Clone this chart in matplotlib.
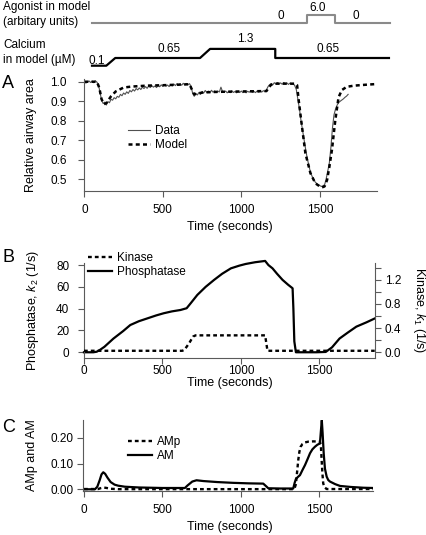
import numpy as np
import matplotlib
matplotlib.use("Agg")
import matplotlib.pyplot as plt
from matplotlib.ticker import MultipleLocator, FormatStrFormatter

plt.rcParams["font.family"] = ["Liberation Sans", "DejaVu Sans"]
plt.rcParams["mathtext.fontset"] = "custom"
plt.rcParams["mathtext.rm"] = "Liberation Sans"
plt.rcParams["mathtext.it"] = "Liberation Sans:italic"

W, H = 426, 535
AX_COL = "#5a5a5a"
DASH = (0, (1.6, 1.3))

## Protocol schematic (top)
agonist_t = [49, 1418, 1418, 1599, 1599, 1949]
agonist_v = [0, 0, 6.0, 6.0, 0, 0]
calcium_t = [49, 140, 197, 737, 801, 1216, 1216, 1940]
calcium_v = [0.1, 0.1, 0.65, 0.65, 1.3, 1.3, 0.65, 0.65]

## Panel A: relative airway area (data sampled every 10 s)
data_t = np.arange(0, 1690, 10)
data_v = [1.000, 0.993, 0.998, 1.004, 0.996, 1.003, 0.995, 1.005, 0.998, 0.985,
          0.945, 0.905, 0.888, 0.895, 0.880, 0.898, 0.892, 0.910, 0.905, 0.918,
          0.912, 0.925, 0.920, 0.935, 0.928, 0.942, 0.935, 0.948, 0.940, 0.955,
          0.948, 0.960, 0.952, 0.965, 0.958, 0.968, 0.960, 0.972, 0.965, 0.975,
          0.966, 0.978, 0.970, 0.980, 0.972, 0.978, 0.970, 0.982, 0.974, 0.984,
          0.976, 0.986, 0.977, 0.983, 0.975, 0.986, 0.978, 0.988, 0.980, 0.990,
          0.981, 0.989, 0.982, 0.992, 0.984, 0.991, 0.985, 0.990, 0.975, 0.940,
          0.925, 0.940, 0.932, 0.945, 0.935, 0.950, 0.942, 0.955, 0.945, 0.952,
          0.944, 0.956, 0.946, 0.953, 0.944, 0.952, 0.947, 0.972, 0.950, 0.945,
          0.952, 0.943, 0.950, 0.944, 0.953, 0.945, 0.950, 0.943, 0.951, 0.945,
          0.952, 0.944, 0.950, 0.943, 0.951, 0.946, 0.953, 0.945, 0.950, 0.944,
          0.952, 0.946, 0.951, 0.947, 0.954, 0.950, 0.958, 0.975, 0.985, 0.990,
          0.984, 0.995, 0.988, 0.996, 0.989, 0.994, 0.987, 0.996, 0.990, 0.994,
          0.986, 0.993, 0.988, 0.991, 0.980, 0.960, 0.910, 0.860, 0.800, 0.750,
          0.700, 0.650, 0.605, 0.570, 0.535, 0.515, 0.498, 0.485, 0.476, 0.470,
          0.466, 0.462, 0.465, 0.470, 0.500, 0.540, 0.580, 0.660, 0.760, 0.830,
          0.860, 0.880, 0.893, 0.900, 0.906, 0.912, 0.920, 0.926, 0.935]
model_t = [0, 80, 95, 110, 125, 140, 170, 200, 250, 300, 400, 500, 600, 670, 685,
           700, 720, 760, 850, 1000, 1160, 1175, 1190, 1210, 1345, 1355, 1365, 1386,
           1408, 1440, 1471, 1500, 1514, 1530, 1546, 1560, 1577, 1598, 1619, 1640,
           1671, 1720, 1800, 1860]
model_v = [1.0, 1.0, 0.97, 0.91, 0.885, 0.89, 0.925, 0.95, 0.97, 0.975, 0.98, 0.982,
           0.985, 0.987, 0.96, 0.935, 0.94, 0.945, 0.948, 0.95, 0.952, 0.97, 0.985,
           0.99, 0.99, 0.983, 0.906, 0.77, 0.632, 0.53, 0.478, 0.462, 0.457, 0.462,
           0.495, 0.56, 0.65, 0.80, 0.92, 0.957, 0.974, 0.98, 0.985, 0.988]

## Panel B: kinase and phosphatase rates
kin_t = [0, 626, 640, 670, 695, 711, 1154, 1169, 1852]
kin_v = [0.025, 0.025, 0.04, 0.15, 0.26, 0.28, 0.28, 0.025, 0.025]
ph_t = [0, 60, 81, 100, 130, 188, 250, 295, 350, 402, 460, 508, 560, 615, 654, 680,
        722, 775, 829, 880, 936, 990, 1030, 1090, 1154, 1175, 1201, 1230, 1265, 1300,
        1329, 1334, 1340, 1350, 1400, 1480, 1540, 1580, 1628, 1680, 1735, 1800, 1852]
ph_v = [0, 0, 0.5, 2, 5, 12.6, 19.5, 25, 28.5, 31, 33.8, 35.8, 37.5, 38.8, 40.4, 45,
        52.6, 60, 66.4, 72, 77, 79.5, 81, 82.6, 83.8, 80, 77, 72, 66.4, 62,
        58.7, 40, 10, 0, 0, 0, 0.3, 4.5, 12.6, 18, 23.5, 27.5, 31]

## Panel C: AMp and AM
am_t = [0, 70, 85, 100, 112, 123, 135, 150, 170, 195, 218, 260, 350, 500, 643, 660,
        690, 717, 760, 850, 950, 1050, 1142, 1160, 1174, 1250, 1333, 1342, 1350, 1363,
        1376, 1392, 1408, 1425, 1440, 1455, 1471, 1487, 1503, 1511, 1515, 1520, 1527,
        1535, 1546, 1556, 1567, 1600, 1631, 1700, 1780, 1843]
am_v = [0, 0, 0.01, 0.035, 0.058, 0.066, 0.06, 0.045, 0.028, 0.018, 0.014, 0.01,
        0.007, 0.005, 0.005, 0.015, 0.03, 0.035, 0.032, 0.028, 0.025, 0.023, 0.022,
        0.012, 0.004, 0.003, 0.003, 0.025, 0.04, 0.048, 0.055, 0.075, 0.094, 0.118,
        0.14, 0.155, 0.165, 0.173, 0.178, 0.24, 0.268, 0.22, 0.14, 0.08, 0.049,
        0.036, 0.03, 0.02, 0.013, 0.009, 0.006, 0.005]
amp_t = [0, 90, 110, 125, 145, 170, 220, 1340, 1350, 1358, 1365, 1372, 1380, 1392,
         1408, 1430, 1461, 1503, 1509, 1514, 1519, 1524, 1532, 1546, 1843]
amp_v = [0.001, 0.001, 0.005, 0.007, 0.005, 0.002, 0.0005, 0.0005, 0.02, 0.07, 0.113,
         0.145, 0.165, 0.176, 0.182, 0.185, 0.186, 0.185, 0.17, 0.113, 0.06, 0.023,
         0.008, 0.001, 0.001]


def px(x, y):
    return x / W, 1 - y / H


def add_axes(fig, left, top, right, bottom):
    return fig.add_axes([left / W, 1 - bottom / H, (right - left) / W, (bottom - top) / H])


def style(ax, ypad, xpad=4):
    for s in ["top", "right"]:
        ax.spines[s].set_visible(False)
    for s in ["left", "bottom"]:
        ax.spines[s].set_color(AX_COL)
        ax.spines[s].set_linewidth(0.8)
    ax.tick_params(colors=AX_COL, labelcolor="black", length=4.3, width=0.8, labelsize=8.5)
    ax.tick_params(axis="y", pad=ypad)
    ax.tick_params(axis="x", pad=xpad)
    ax.xaxis.set_major_locator(MultipleLocator(500))


def legend(ax, handles, labels, x, y, hl):
    ax.legend(handles, labels, loc="upper left", bbox_to_anchor=px(x, y),
              bbox_transform=ax.figure.transFigure, frameon=False, fontsize=8.5,
              handlelength=hl, handletextpad=0.45, labelspacing=0.2,
              borderpad=0, borderaxespad=0)


fig = plt.figure(figsize=(W / 100, H / 100), dpi=100)

## Top schematic
ax0 = add_axes(fig, 84, 0, 376.7, 75)
ax0.axis("off")
ax0.set_xlim(-2, 1862)
ax0.set_ylim(75, 0)
ax0.plot(agonist_t, 23.3 - 1.38 * np.array(agonist_v), color="#8a8a8a", lw=1.5, clip_on=False)
ax0.plot(calcium_t, 67.1 - 14 * np.array(calcium_v), color="black", lw=1.6, clip_on=False)

fs = 8.5
fig.text(*px(3, 7), "Agonist in model", fontsize=fs, va="center")
fig.text(*px(3, 22), "(arbitary units)", fontsize=fs, va="center")
fig.text(*px(3, 45), "Calcium", fontsize=fs, va="center")
fig.text(*px(3, 60), "in model (µM)", fontsize=fs, va="center")
for (x, y), s in zip([(281, 15.7), (318, 8), (356, 15.7)], ["0", "6.0", "0"]):
    fig.text(*px(x, y), s, fontsize=fs, ha="center", va="center")
for (x, y), s in zip([(97, 61), (169, 49), (245, 39), (328, 49)], ["0.1", "0.65", "1.3", "0.65"]):
    fig.text(*px(x, y), s, fontsize=fs, ha="center", va="center")

## Panel A
axA = add_axes(fig, 84, 79, 376.7, 190.7)
style(axA, ypad=8, xpad=5)
hd, = axA.plot(data_t, data_v, color="#505050", lw=0.8)
hm, = axA.plot(model_t, model_v, color="black", lw=1.8, linestyle=DASH)
axA.set_xlim(-2, 1862)
axA.set_ylim(0.44, 1.014)
axA.set_yticks([0.5, 0.6, 0.7, 0.8, 0.9, 1.0])
axA.yaxis.set_major_formatter(FormatStrFormatter("%.1f"))
legend(axA, [hd, hm], ["Data", "Model"], 128, 125, 1.85)
fig.text(*px(31, 135), "Relative airway area", fontsize=9, rotation=90, ha="center", va="center")
fig.text(*px(230, 227), "Time (seconds)", fontsize=9, ha="center", va="center")
fig.text(*px(2, 83), "A", fontsize=13, va="center")

## Panel B
axB = add_axes(fig, 83.5, 263, 374.7, 357.5)
style(axB, ypad=6, xpad=1)
axB2 = axB.twinx()
axB2.spines["top"].set_visible(False)
axB2.spines["left"].set_visible(False)
axB2.spines["bottom"].set_visible(False)
axB2.spines["right"].set_color(AX_COL)
axB2.spines["right"].set_linewidth(0.8)
hp, = axB.plot(ph_t, ph_v, color="black", lw=1.6, clip_on=False)
hk, = axB2.plot(kin_t, kin_v, color="black", lw=1.7, linestyle=DASH)
axB.set_xlim(-3, 1852)
axB.set_ylim(-4.8, 81.9)
axB.set_yticks([0, 20, 40, 60, 80])
axB2.set_ylim(-0.086, 1.476)
axB2.yaxis.set_major_locator(MultipleLocator(0.4))
axB2.yaxis.set_minor_locator(MultipleLocator(0.2))
axB2.yaxis.set_major_formatter(FormatStrFormatter("%.1f"))
axB2.tick_params(which="both", colors=AX_COL, labelcolor="black", length=4.3, width=0.8,
                 labelsize=8.5, pad=3)
legend(axB, [hk, hp], ["Kinase", "Phosphatase"], 88, 252, 2.0)
fig.text(*px(33, 310), "Phosphatase, $k_2$ (1/s)", fontsize=9, rotation=90, ha="center", va="center")
fig.text(*px(419, 310), "Kinase, $k_1$ (1/s)", fontsize=9, rotation=270, ha="center", va="center")
fig.text(*px(230, 383), "Time (seconds)", fontsize=9, ha="center", va="center")
fig.text(*px(2, 258), "B", fontsize=13, va="center")

## Panel C
axC = add_axes(fig, 82.7, 420, 373.3, 490.7)
style(axC, ypad=2, xpad=5)
hamp, = axC.plot(amp_t, amp_v, color="black", lw=1.7, linestyle=DASH)
ham, = axC.plot(am_t, am_v, color="black", lw=1.6)
axC.set_xlim(-8, 1843)
axC.set_ylim(-0.0055, 0.269)
axC.set_yticks([0.0, 0.1, 0.2])
axC.yaxis.set_major_formatter(FormatStrFormatter("%.2f"))
legend(axC, [hamp, ham], ["AMp", "AM"], 128, 436, 2.0)
fig.text(*px(32, 455), "AMp and AM", fontsize=9, rotation=90, ha="center", va="center")
fig.text(*px(230, 527), "Time (seconds)", fontsize=9, ha="center", va="center")
fig.text(*px(2, 428), "C", fontsize=13, va="center")

fig.savefig("out.png", dpi=100)
